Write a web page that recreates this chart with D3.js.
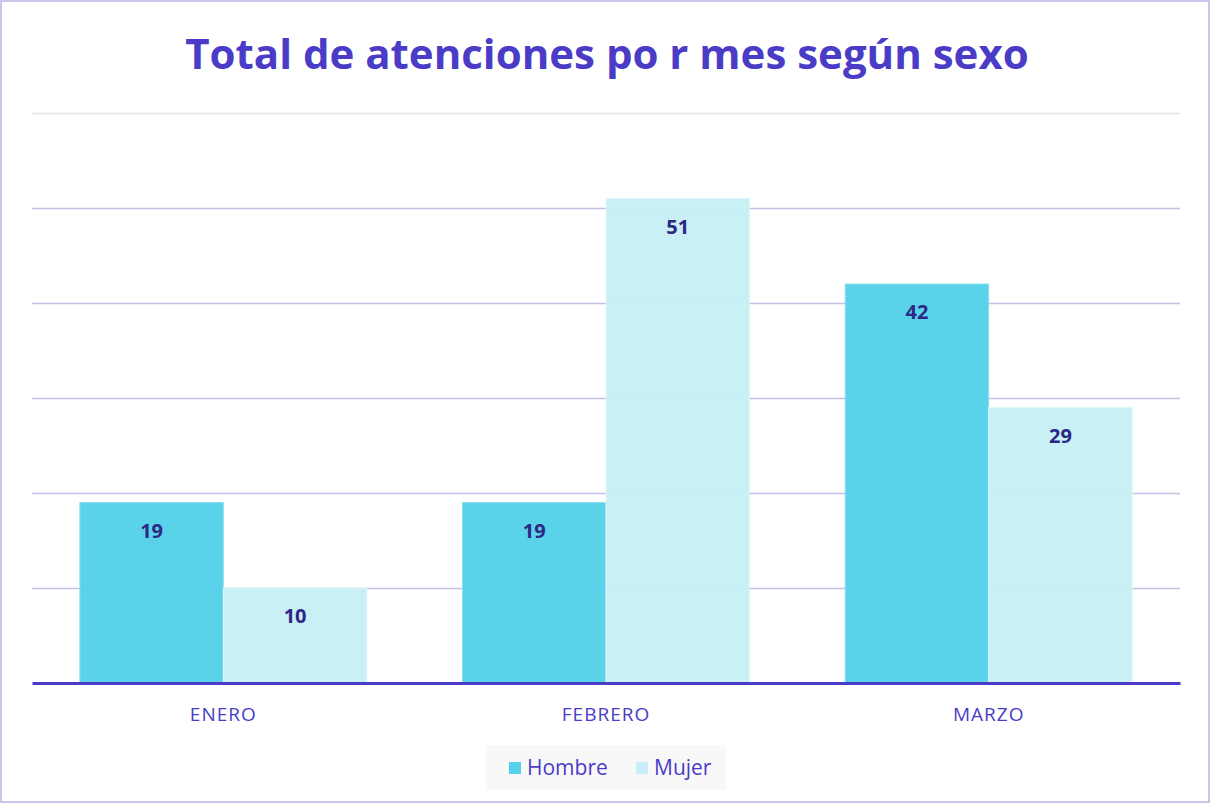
<!DOCTYPE html>
<html>
<head>
<meta charset="utf-8">
<script src="https://cdn.jsdelivr.net/npm/d3@7"></script>
<style>
  body { margin: 0; background: #fff; }
  text { font-family: 'Open Sans', sans-serif; }
</style>
</head>
<body>
<div id="chart"></div>
<script>
const months = ['ENERO', 'FEBRERO', 'MARZO'];
const series = ['Hombre', 'Mujer'];
const hombre = [19, 19, 42];
const mujer = [10, 51, 29];
const yTicks = [0, 10, 20, 30, 40, 50, 60];

const colors = {Hombre: '#55d2e9', Mujer: '#c6f0f5'};
const W = 1212, H = 805;
const margin = {top: 113, right: 32, bottom: 122, left: 32};
const width = W - margin.left - margin.right;
const height = H - margin.top - margin.bottom;

const svg = d3.select('#chart')
  .append('svg')
  .attr('width', W)
  .attr('height', H);

// frame
svg.append('rect')
  .attr('x', 1).attr('y', 1)
  .attr('width', 1208).attr('height', 801)
  .attr('fill', 'none')
  .attr('stroke', '#c9c6ee')
  .attr('stroke-width', 2);

svg.append('text')
  .attr('x', W / 2 + 1)
  .attr('y', 69)
  .attr('text-anchor', 'middle')
  .attr('fill', '#4a3cc6')
  .style('font-size', '42px')
  .style('font-weight', 700)
  .text('Total de atenciones po r mes según sexo');

const g = svg.append('g')
  .attr('transform', `translate(${margin.left}, ${margin.top})`);

const x = d3.scaleBand()
  .domain(months)
  .range([0, width])
  .paddingInner(0.25)
  .paddingOuter(0.125);
const x1 = d3.scaleBand()
  .domain(series)
  .range([0, x.bandwidth()]);
const y = d3.scaleLinear()
  .domain([0, 60])
  .range([height, 0]);

// grid
g.append('g')
  .selectAll('line')
  .data(yTicks.filter(d => d > 0))
  .join('line')
  .attr('x1', 0).attr('x2', width)
  .attr('y1', d => Math.round(y(d)) + 0.5)
  .attr('y2', d => Math.round(y(d)) + 0.5)
  .attr('stroke', d => d === 60 ? '#e3e3e6' : '#c3bfe6')
  .attr('stroke-width', 1.5);

const data = months.map((m, i) => ({month: m, values: [
  {key: 'Hombre', value: hombre[i]},
  {key: 'Mujer', value: mujer[i]}
]}));

const groups = g.selectAll('.grp')
  .data(data)
  .join('g')
  .attr('class', 'grp')
  .attr('transform', d => `translate(${x(d.month)},0)`);

groups.selectAll('rect')
  .data(d => d.values)
  .join('rect')
  .attr('x', d => x1(d.key))
  .attr('y', d => y(d.value))
  .attr('width', x1.bandwidth())
  .attr('height', d => height - y(d.value))
  .attr('fill', d => colors[d.key])
  .attr('fill-opacity', 0.97)
  .attr('stroke', d => d.key === 'Hombre' ? '#8fe0ef' : '#dff7fa')
  .attr('stroke-width', 1);

groups.selectAll('.lbl')
  .data(d => d.values)
  .join('text')
  .attr('class', 'lbl')
  .attr('x', d => x1(d.key) + x1.bandwidth() / 2)
  .attr('y', d => y(d.value) + 35)
  .attr('text-anchor', 'middle')
  .attr('fill', '#2d2785')
  .style('font-size', '20px')
  .style('font-weight', 700)
  .text(d => d.value);

// x axis
const gx = g.append('g')
  .attr('transform', `translate(0, ${height})`)
  .call(d3.axisBottom(x).tickSize(0).tickPadding(25));
gx.select('.domain')
  .attr('stroke', '#4a3cc6')
  .attr('stroke-width', 3);
gx.selectAll('text')
  .attr('fill', '#4a3cc6')
  .style('font-size', '19px')
  .style('letter-spacing', '1px')
  .style('font-family', "'Open Sans', sans-serif");

// legend
const legend = svg.append('g')
  .attr('transform', 'translate(486, 745)');
legend.append('rect')
  .attr('width', 240).attr('height', 45)
  .attr('fill', '#f8f8f9');
const li = legend.selectAll('.li')
  .data(series)
  .join('g')
  .attr('class', 'li')
  .attr('transform', (d, i) => `translate(${[23, 150][i]}, 0)`);
li.append('rect')
  .attr('y', 17).attr('width', 12).attr('height', 12)
  .attr('fill', d => colors[d]);
li.append('text')
  .attr('x', 18).attr('y', 30)
  .attr('fill', '#4a3cc6')
  .style('font-size', '21px')
  .text(d => d);
</script>
</body>
</html>
